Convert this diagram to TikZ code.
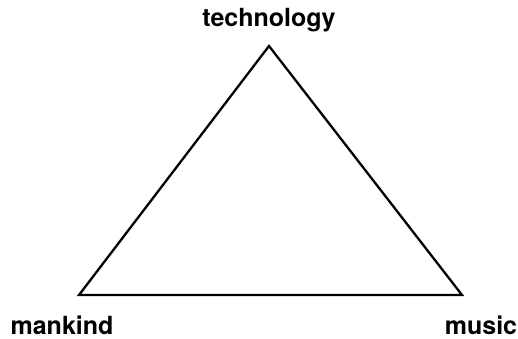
\documentclass[tikz,border=0pt]{standalone}
\usepackage{fontspec}
\setmainfont{TeX Gyre Heros}
\begin{document}
\begin{tikzpicture}[x=1pt,y=-1pt,
  lbl/.style={font=\fontsize{25}{28}\selectfont\bfseries, inner sep=0pt, anchor=base},
  edge/.style={line width=2.3pt, line join=miter}]
\useasboundingbox (0,0) rectangle (518,339);
\coordinate (top) at (269,46);
\coordinate (bl) at (79,295);
\coordinate (br) at (462,295);
\draw[edge] (top) -- (bl) -- (br) -- cycle;
\node[lbl] (tech) at (269,27) {technology};
\node[lbl] (man) at (62,334) {mankind};
\node[lbl] (mus) at (481,334) {music};
\end{tikzpicture}
\end{document}
